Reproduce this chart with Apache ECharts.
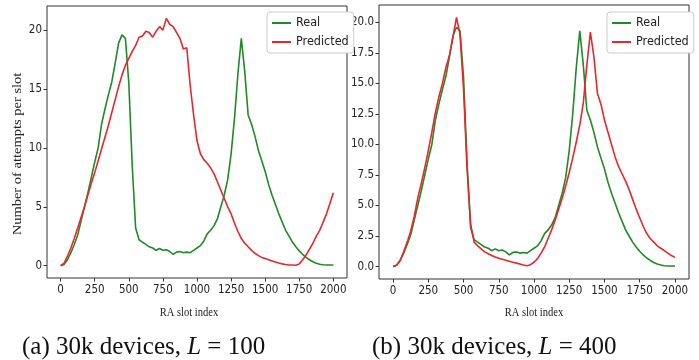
<!DOCTYPE html>
<html>
<head>
<meta charset="utf-8">
<script src="https://cdn.jsdelivr.net/npm/echarts@6/dist/echarts.min.js"></script>
<style>
  html, body { margin: 0; padding: 0; background: #fff; }
  #chart { width: 699px; height: 360px; }
</style>
</head>
<body>
<div id="chart"></div>
<script>
// RA slot index (x values shared by every series)
const slots = [
  0, 25, 50, 75, 100, 125, 150, 175, 200, 225, 250, 275, 300, 325, 350, 375,
  400, 425, 450, 475, 500, 525, 550, 575, 600, 625, 650, 675, 700, 725, 750, 775,
  800, 825, 850, 875, 900, 925, 950, 975, 1000, 1025, 1050, 1075, 1100, 1125, 1150, 1175,
  1200, 1225, 1250, 1275, 1300, 1325, 1350, 1375, 1400, 1425, 1450, 1475, 1500, 1525, 1550, 1575,
  1600, 1625, 1650, 1675, 1700, 1725, 1750, 1775, 1800, 1825, 1850, 1875, 1900, 1925, 1950, 1975, 2000
];

// measured traffic, same in both panels
const real = [
  0.0, 0.1, 0.5, 1.1, 1.8, 2.6, 3.8, 5.0, 6.2, 7.5, 8.8, 10.0, 12.0, 13.3, 14.5, 15.6,
  17.2, 18.9, 19.6, 19.3, 15.5, 8.5, 3.2, 2.2, 2.0, 1.8, 1.6, 1.5, 1.3, 1.45, 1.3, 1.35,
  1.2, 0.95, 1.15, 1.2, 1.1, 1.15, 1.1, 1.3, 1.5, 1.7, 2.1, 2.7, 3.0, 3.4, 4.0, 5.0,
  6.0, 7.3, 9.5, 12.5, 16.3, 19.3, 16.5, 12.8, 12.0, 11.0, 9.8, 8.9, 8.0, 6.9, 6.0, 5.2,
  4.4, 3.7, 3.0, 2.5, 2.0, 1.6, 1.25, 0.95, 0.7, 0.5, 0.33, 0.2, 0.12, 0.07, 0.05, 0.05, 0.05
];

// prediction, L = 100
const predL100 = [
  0.0, 0.2, 0.8, 1.5, 2.3, 3.2, 4.1, 5.0, 6.0, 7.0, 7.9, 8.9, 9.9, 10.9, 11.9, 13.0,
  14.1, 15.2, 16.2, 17.0, 17.6, 18.2, 18.7, 19.4, 19.5, 19.9, 19.8, 19.4, 19.9, 20.3, 20.0, 21.0,
  20.5, 20.3, 19.8, 19.3, 18.4, 18.5, 15.3, 12.8, 10.6, 9.5, 9.0, 8.7, 8.3, 7.8, 7.1, 6.4,
  5.7, 5.0, 4.4, 3.6, 2.9, 2.3, 1.9, 1.6, 1.3, 1.05, 0.85, 0.7, 0.6, 0.5, 0.4, 0.3,
  0.22, 0.15, 0.1, 0.06, 0.05, 0.03, 0.15, 0.5, 0.9, 1.4, 1.9, 2.5, 3.0, 3.7, 4.4, 5.3, 6.2
];

// prediction, L = 400
const predL400 = [
  0.0, 0.1, 0.5, 1.2, 2.0, 2.9, 4.1, 5.6, 6.8, 8.1, 9.5, 11.0, 12.6, 13.9, 15.0, 16.3,
  17.3, 18.8, 20.4, 19.0, 14.5, 8.0, 3.5, 2.0, 1.7, 1.45, 1.2, 1.05, 0.9, 0.78, 0.68, 0.6,
  0.52, 0.44, 0.36, 0.28, 0.2, 0.12, 0.06, 0.15, 0.35, 0.65, 1.1, 1.6, 2.3, 3.0, 3.8, 4.7,
  5.6, 6.6, 7.7, 8.9, 10.2, 11.6, 13.4, 16.5, 19.2, 17.2, 14.2, 13.3, 12.0, 11.0, 10.0, 9.0,
  8.2, 7.6, 7.0, 6.3, 5.5, 4.7, 4.0, 3.3, 2.7, 2.3, 2.0, 1.7, 1.5, 1.3, 1.1, 0.9, 0.75
];

const xTicks = [0, 250, 500, 750, 1000, 1250, 1500, 1750, 2000];
const yTicksA = [0, 5, 10, 15, 20];
const yTicksB = [0, 2.5, 5, 7.5, 10, 12.5, 15, 17.5, 20];

const GREEN = "#1f8a27";
const RED = "#e8262e";
const AXIS = "#333";
const tickFont = "'Liberation Sans Narrow', 'DejaVu Sans Condensed', sans-serif";
const serif = "'Liberation Serif', 'DejaVu Serif', serif";

const pairs = (ys) => slots.map((x, i) => [x, ys[i]]);

const chart = echarts.init(document.getElementById("chart"), null, { renderer: "canvas" });

function xAxisFor(grid) {
  return {
    gridIndex: grid,
    type: "value",
    min: -100,
    max: 2100,
    axisLine: { show: false, onZero: false },
    axisTick: { show: true, customValues: xTicks, length: 3.5, lineStyle: { color: AXIS, width: 1 } },
    axisLabel: { customValues: xTicks, margin: 6, color: "#222", fontSize: 11.5, fontFamily: tickFont, formatter: (v) => String(v) },
    splitLine: { show: false },
  };
}

function yAxisFor(grid, min, max, ticks, fmt) {
  return {
    gridIndex: grid,
    type: "value",
    min: min,
    max: max,
    axisLine: { show: false, onZero: false },
    axisTick: { show: true, customValues: ticks, length: 3.5, lineStyle: { color: AXIS, width: 1 } },
    axisLabel: { customValues: ticks, margin: 5, color: "#222", fontSize: 11.5, fontFamily: tickFont, formatter: fmt },
    splitLine: { show: false },
  };
}

function legendAt(left) {
  return {
    left: left,
    top: 12,
    orient: "vertical",
    data: ["Real", "Predicted"],
    icon: "rect",
    itemWidth: 19,
    itemHeight: 2,
    itemGap: 5,
    padding: [4, 5, 4, 5],
    backgroundColor: "#fff",
    borderColor: "#cccccc",
    borderWidth: 1,
    borderRadius: 3,
    textStyle: { color: "#222", fontSize: 12.5, lineHeight: 14, fontFamily: tickFont },
  };
}

function line(name, grid, ys, color) {
  return {
    name: name,
    type: "line",
    xAxisIndex: grid,
    yAxisIndex: grid,
    data: pairs(ys),
    symbol: "none",
    lineStyle: { color: color, width: 1.6 },
    itemStyle: { color: color },
  };
}

function caption(x, text) {
  return {
    type: "text",
    x: x,
    y: 347,
    style: {
      text: text,
      verticalAlign: "middle",
      rich: {
        r: { fontFamily: serif, fontSize: 25, fill: "#111" },
        i: { fontFamily: serif, fontSize: 25, fontStyle: "italic", fill: "#111" },
      },
    },
  };
}

const option = {
  animation: false,
  backgroundColor: "#fff",
  grid: [
    { left: 47, top: 6, width: 300, height: 272, show: true, borderColor: AXIS, borderWidth: 1, backgroundColor: "#fff" },
    { left: 379, top: 5, width: 310, height: 274, show: true, borderColor: AXIS, borderWidth: 1, backgroundColor: "#fff" },
  ],
  xAxis: [xAxisFor(0), xAxisFor(1)],
  yAxis: [
    yAxisFor(0, -1.05, 22.05, yTicksA, (v) => String(v)),
    yAxisFor(1, -1.02, 21.42, yTicksB, (v) => v.toFixed(1)),
  ],
  legend: [legendAt(267), legendAt(607)],
  series: [
    line("Real", 0, real, GREEN),
    line("Predicted", 0, predL100, RED),
    line("Real", 1, real, GREEN),
    line("Predicted", 1, predL400, RED),
  ],
  graphic: [
    {
      type: "text",
      x: 18,
      y: 154,
      rotation: Math.PI / 2,
      scaleY: 0.8,
      style: { text: "Number of attempts per slot", fill: "#222", font: "14.5px " + serif, align: "center", verticalAlign: "middle" },
    },
    {
      type: "text",
      x: 189,
      y: 312,
      scaleX: 0.78,
      style: { text: "RA slot index", fill: "#222", font: "13.5px " + serif, align: "center", verticalAlign: "middle" },
    },
    {
      type: "text",
      x: 534,
      y: 312,
      scaleX: 0.78,
      style: { text: "RA slot index", fill: "#222", font: "13.5px " + serif, align: "center", verticalAlign: "middle" },
    },
    caption(22, "{r|(a) 30k devices, }{i|L}{r| = 100}"),
    caption(372, "{r|(b) 30k devices, }{i|L}{r| = 400}"),
  ],
};

chart.setOption(option);
</script>
</body>
</html>
